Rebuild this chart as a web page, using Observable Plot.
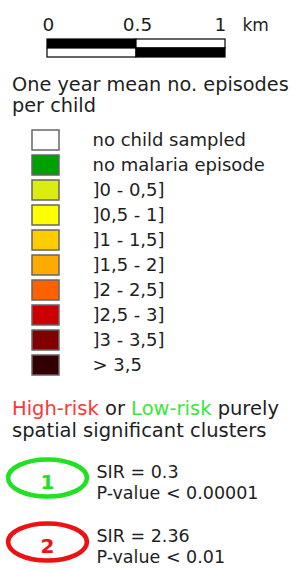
<!DOCTYPE html>
<html>
<head>
<meta charset="utf-8">
<script src="https://cdn.jsdelivr.net/npm/d3@7"></script>
<script src="https://cdn.jsdelivr.net/npm/@observablehq/plot@0.6"></script>
<style>
  html, body { margin: 0; padding: 0; background: #fff; }
  #root { position: relative; width: 299px; height: 570px; overflow: hidden; font-family: "DejaVu Sans", sans-serif; color: #1e1e1e; }
  .blk { position: absolute; left: 0; }
  .head { left: 12px; line-height: 21px; white-space: nowrap; }
  svg { background: transparent !important; }
</style>
</head>
<body>
<div id="root"></div>
<script>
// ---- data ----
const scaleTicks = [0, 0.5, 1];
const scaleUnit = "km";
const scaleStarts = [0, 0.5, 0, 0.5];
const scaleEnds = [0.5, 1, 0.5, 1];
const scaleRows = ["top", "top", "bottom", "bottom"];
const scaleFills = ["#000", "#fff", "#fff", "#000"];

const titleLines = ["One year mean no. episodes", "per child"];

const classLabels = ["no child sampled", "no malaria episode", "]0 - 0,5]", "]0,5 - 1]", "]1 - 1,5]", "]1,5 - 2]", "]2 - 2,5]", "]2,5 - 3]", "]3 - 3,5]", "> 3,5"];
const classColors = ["#ffffff", "#00a000", "#dcec10", "#ffff00", "#ffcc00", "#ffaa00", "#ff6000", "#cc0000", "#800000", "#330000"];

const clusterIds = ["1", "2"];
const clusterSIR = ["0.3", "2.36"];
const clusterP = ["< 0.00001", "< 0.01"];
const clusterColors = ["#22e022", "#ee1111"];

const root = document.getElementById("root");
function place(node, top) { node.classList.add("blk"); node.style.top = top + "px"; root.appendChild(node); }

// ---- scale bar ----
const segs = scaleStarts.map((s, i) => ({x1: s, x2: scaleEnds[i], row: scaleRows[i], fill: scaleFills[i]}));
const scalePlot = Plot.plot({
  width: 299, height: 62,
  marginLeft: 47, marginRight: 74, marginTop: 39, marginBottom: 5,
  x: {domain: [0, 1], axis: null},
  y: {type: "band", domain: ["top", "bottom"], padding: 0, axis: null},
  marks: [
    Plot.rectX(segs, {x1: "x1", x2: "x2", y: "row", fill: "fill", stroke: "#000", strokeWidth: 1.2}),
    Plot.text(scaleTicks.slice(0, 2), {x: d => d, y: () => "top", text: d => String(d), dy: -18.5, dx: 1, fontSize: 18.5, fill: "#1e1e1e"}),
    Plot.text(scaleTicks.slice(2), {x: d => d, y: () => "top", text: d => String(d), dy: -18.5, dx: -5, fontSize: 18.5, fill: "#1e1e1e"}),
    Plot.text(scaleTicks.slice(2), {x: d => d, y: () => "top", text: () => scaleUnit, dy: -18.5, dx: 17, textAnchor: "start", fontSize: 17, fill: "#1e1e1e"})
  ],
  style: {fontFamily: "DejaVu Sans", background: "transparent", overflow: "visible"}
});
place(scalePlot, 0);

// ---- title ----
const title = document.createElement("div");
title.className = "head";
title.style.fontSize = "19.3px";
title.innerHTML = titleLines.join("<br>");
place(title, 73.5);

// ---- classes ----
const rows = classLabels.map((l, i) => ({label: l, color: classColors[i]}));
const classPlot = Plot.plot({
  width: 299, height: 265,
  marginLeft: 32, marginRight: 240, marginTop: 5.3, marginBottom: 5.3,
  x: {domain: [0, 1], axis: null},
  y: {type: "band", domain: classLabels, paddingInner: 0.21, paddingOuter: 0.1, axis: null},
  marks: [
    Plot.barX(rows, {x: 1, y: "label", fill: "color", stroke: "#666", strokeWidth: 1.5}),
    Plot.text(rows, {x: 1, y: "label", text: "label", dx: 33, textAnchor: "start", fontSize: 18, fill: "#1e1e1e"})
  ],
  style: {fontFamily: "DejaVu Sans", background: "transparent", overflow: "visible"}
});
place(classPlot, 120);

// ---- cluster heading ----
const head2 = document.createElement("div");
head2.className = "head";
head2.style.fontSize = "19.5px";
head2.style.lineHeight = "22px";
head2.innerHTML = '<span style="color:#ff3636">High-risk</span> or <span style="color:#3ae83a">Low-risk</span> purely<br>spatial significant clusters';
place(head2, 397.5);

// ---- clusters ----
const ellipse = {
  draw(ctx, size) {
    const r = Math.sqrt(size / Math.PI), rx = r * 2.13, ry = r, k = 0.5523;
    ctx.moveTo(-rx, 0);
    ctx.bezierCurveTo(-rx, -ry * k, -rx * k, -ry, 0, -ry);
    ctx.bezierCurveTo(rx * k, -ry, rx, -ry * k, rx, 0);
    ctx.bezierCurveTo(rx, ry * k, rx * k, ry, 0, ry);
    ctx.bezierCurveTo(-rx * k, ry, -rx, ry * k, -rx, 0);
    ctx.closePath();
  }
};
const clusters = clusterIds.map((id, i) => ({id, sir: clusterSIR[i], p: clusterP[i], color: clusterColors[i]}));
const clusterPlot = Plot.plot({
  width: 299, height: 120,
  marginLeft: 46.5, marginRight: 203, marginTop: 31, marginBottom: 25,
  x: {type: "point", domain: ["ellipse", "stats"], padding: 0, axis: null},
  y: {type: "point", domain: clusterIds, padding: 0, axis: null},
  marks: [
    Plot.dot(clusters, {x: () => "ellipse", y: "id", r: 18.5, dy: -3.5, symbol: ellipse, stroke: "color", strokeWidth: 4.6, fill: "none"}),
    Plot.text(clusters, {x: () => "ellipse", y: "id", text: "id", dy: 1, fill: "color", fontWeight: "bold", fontSize: 20}),
    Plot.text(clusters, {x: () => "stats", y: "id", text: d => `SIR = ${d.sir}\nP-value ${d.p}`, textAnchor: "start", fontSize: 17.5, lineHeight: 1.2, fill: "#1e1e1e"})
  ],
  style: {fontFamily: "DejaVu Sans", background: "transparent", overflow: "visible"}
});
place(clusterPlot, 450);
</script>
</body>
</html>
